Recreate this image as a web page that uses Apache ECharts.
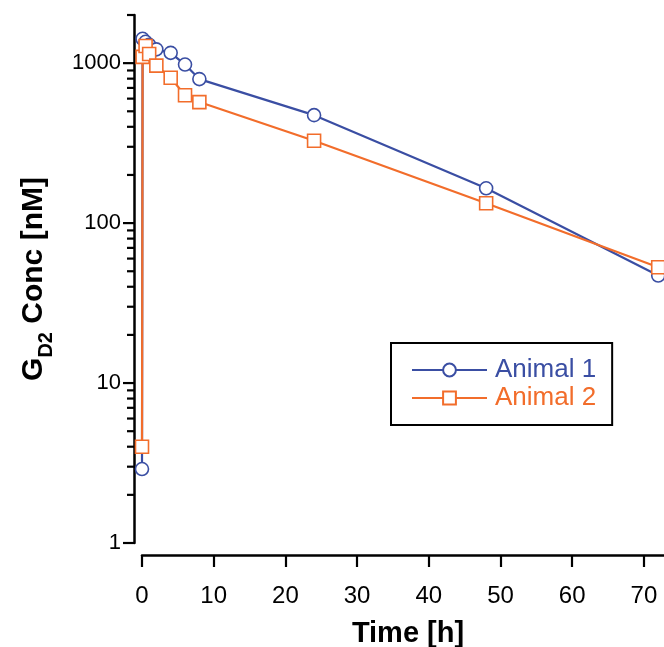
<!DOCTYPE html>
<html><head><meta charset="utf-8">
<script src="https://cdn.jsdelivr.net/npm/echarts@6/dist/echarts.min.js"></script>
<style>html,body{margin:0;padding:0;background:#fff}#c{width:664px;height:647px}</style>
</head><body><div id="c"></div>
<script>
// Data
const seriesNames = ['Animal 1', 'Animal 2'];
const timeA1 = [0, 0.083, 0.5, 1, 2, 4, 6, 8, 24, 48, 72];
const concA1 = [2.9, 1420, 1360, 1300, 1220, 1160, 980, 795, 473, 165, 47];
const timeA2 = [0, 0.083, 0.5, 1, 2, 4, 6, 8, 24, 48, 72];
const concA2 = [4.0, 1095, 1280, 1140, 965, 810, 630, 571, 327, 133, 53];
const xTickLabels = [0, 10, 20, 30, 40, 50, 60, 70];
const yMajorTicks = [1, 10, 100, 1000];
const yMinorTicks = [2, 3, 4, 5, 6, 7, 8, 9, 20, 30, 40, 50, 60, 70, 80, 90, 200, 300, 400, 500, 600, 700, 800, 900, 2000];

const BLUE = '#3a4ea3';
const ORANGE = '#f26d2b';
const FONT = "'Liberation Sans', Arial, Helvetica, sans-serif";
const Y_OFFSET = 8;

const chart = echarts.init(document.getElementById('c'), null, {renderer: 'canvas'});

const pair = (xs, ys) => xs.map((x, i) => [x, ys[i]]);
const tickData = yMajorTicks.map(v => [0, v, 1]).concat(yMinorTicks.map(v => [0, v, 0]));

chart.setOption({
  animation: false,
  backgroundColor: '#fff',
  textStyle: {fontFamily: FONT},
  grid: {left: 142, right: -10, top: 15, bottom: 104, containLabel: false, outerBoundsMode: 'none'},
  legend: {
    data: [
      {name: seriesNames[0], textStyle: {color: BLUE}},
      {name: seriesNames[1], textStyle: {color: ORANGE}}
    ],
    orient: 'vertical',
    left: 391, top: 343,
    itemWidth: 75, itemHeight: 16, itemGap: 0,
    padding: [13, 16, 13, 20],
    borderColor: '#000', borderWidth: 2, borderRadius: 0,
    textStyle: {fontSize: 26, fontFamily: FONT, lineHeight: 28, padding: [0, 0, 0, 3]}
  },
  xAxis: {
    type: 'value', min: 0, max: 74.2, interval: 10,
    offset: 12,
    name: 'Time [h]', nameLocation: 'middle', nameGap: 64,
    nameTextStyle: {fontSize: 29, fontWeight: 'bold', color: '#000', fontFamily: FONT},
    axisLine: {show: true, onZero: false, lineStyle: {color: '#000', width: 2.5}},
    axisTick: {show: true, length: 12, lineStyle: {color: '#000', width: 2.2}},
    axisLabel: {
      fontSize: 24, color: '#000', margin: 29, fontFamily: FONT,
      showMaxLabel: false,
      formatter: v => (xTickLabels.indexOf(v) >= 0 ? String(v) : '')
    },
    splitLine: {show: false}
  },
  yAxis: {
    type: 'log', logBase: 10, min: 1, max: 2000,
    offset: Y_OFFSET,
    name: '{g|G}{sub|D2}{g| Conc [nM]}', nameLocation: 'middle', nameGap: 82, nameRotate: 90,
    nameTextStyle: {
      color: '#000',
      rich: {
        g: {fontSize: 30, fontWeight: 'bold', color: '#000', fontFamily: FONT, lineHeight: 36},
        sub: {fontSize: 20, fontWeight: 'bold', color: '#000', fontFamily: FONT, lineHeight: 20, padding: [20, 0, 0, 0], verticalAlign: 'top'}
      }
    },
    axisLine: {show: true, onZero: false, lineStyle: {color: '#000', width: 2.5}},
    axisTick: {show: false},
    axisLabel: {
      fontSize: 22, color: '#000', margin: 13, fontFamily: FONT,
      formatter: v => (yMajorTicks.indexOf(Math.round(v)) >= 0 && Math.abs(v - Math.round(v)) < 1e-6 ? String(Math.round(v)) : '')
    },
    splitLine: {show: false},
    minorTick: {show: false}
  },
  series: [
    {
      type: 'custom', name: 'yTicks', silent: true, clip: false, z: 3,
      data: tickData,
      renderItem: function (params, api) {
        const p = api.coord([api.value(0), api.value(1)]);
        const x0 = params.coordSys.x - Y_OFFSET;
        const len = api.value(2) ? 11 : 7;
        return {type: 'line', shape: {x1: x0 - len, y1: p[1], x2: x0, y2: p[1]},
                style: {stroke: '#000', lineWidth: 2.2}};
      }
    },
    {
      name: seriesNames[0], type: 'line', data: pair(timeA1, concA1),
      symbol: 'circle', symbolSize: 13, showAllSymbol: true,
      lineStyle: {color: BLUE, width: 2.2},
      itemStyle: {color: '#fff', borderColor: BLUE, borderWidth: 1.6},
      z: 4
    },
    {
      name: seriesNames[1], type: 'line', data: pair(timeA2, concA2),
      symbol: 'rect', symbolSize: 13, showAllSymbol: true,
      lineStyle: {color: ORANGE, width: 2.2},
      itemStyle: {color: '#fff', borderColor: ORANGE, borderWidth: 1.6},
      z: 5
    }
  ]
});
</script></body></html>
